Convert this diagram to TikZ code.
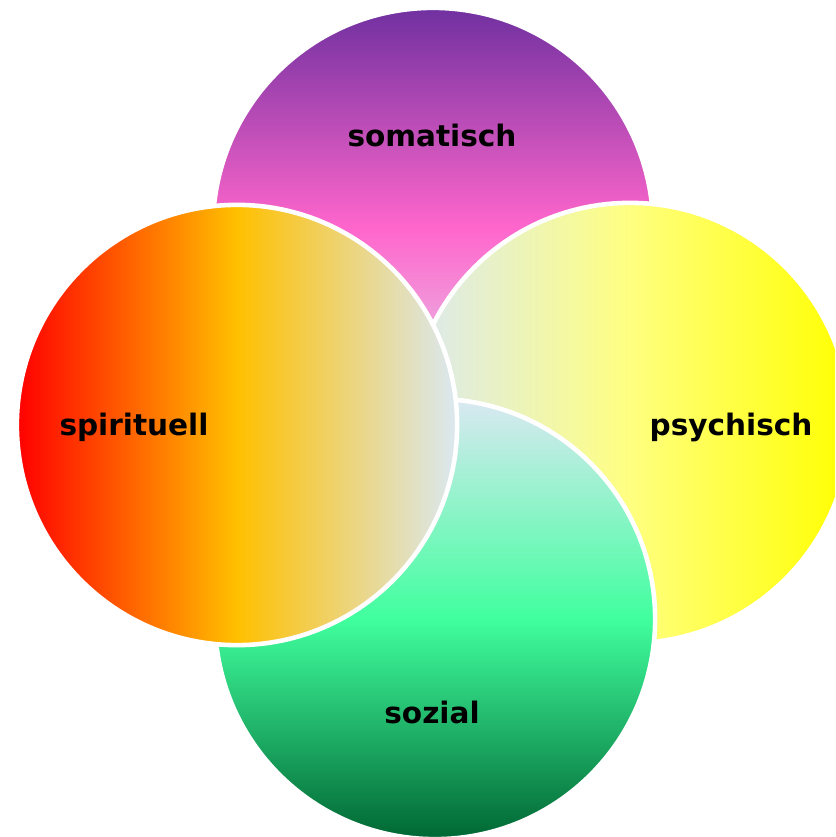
\documentclass[tikz,border=0pt]{standalone}
\usepackage{fontspec}
\setmainfont{DejaVu Sans}
\usepackage{tikz}
\usetikzlibrary{positioning}
\usepackage{xcolor}
\definecolor{somaTop}{HTML}{7030A0}
\definecolor{somaMid}{HTML}{FF66CC}
\definecolor{paleBlue}{HTML}{DAE8F2}
\definecolor{psyMid}{HTML}{FFFF80}
\definecolor{psyOut}{HTML}{FFFF00}
\definecolor{sozMid}{HTML}{40FF9E}
\definecolor{sozOut}{HTML}{006633}
\definecolor{spiMid}{HTML}{FFC000}
\definecolor{spiOut}{HTML}{FF0000}

\begin{document}
\begin{tikzpicture}[x=0.01cm,y=-0.01cm,
  ring/.style={circle,draw=white,line width=1.3pt,minimum size=4.4cm,inner sep=0pt},
  lbl/.style={anchor=base,font=\bfseries\fontsize{8.4}{10}\selectfont}]
\useasboundingbox (0,0) rectangle (835,837);
\clip (0,0) rectangle (835,837);
% circles, back to front
\node[ring,top color=somaTop,bottom color=paleBlue,middle color=somaMid] (soma) at (433,228) {};
\node[ring,left color=paleBlue,right color=psyOut,middle color=psyMid] (psy) at (630,423) {};
\node[ring,top color=paleBlue,bottom color=sozOut,middle color=sozMid] (soz) at (435,619) {};
\node[ring,left color=spiOut,right color=paleBlue,middle color=spiMid] (spi) at (237,425) {};
% labels
\node[lbl] (somaL) at (432,147) {somatisch};
\node[lbl] (psyL) at (731,435) {psychisch};
\node[lbl] (sozL) at (432,723) {sozial};
\node[lbl] (spiL) at (134,435) {spirituell};
\end{tikzpicture}
\end{document}
